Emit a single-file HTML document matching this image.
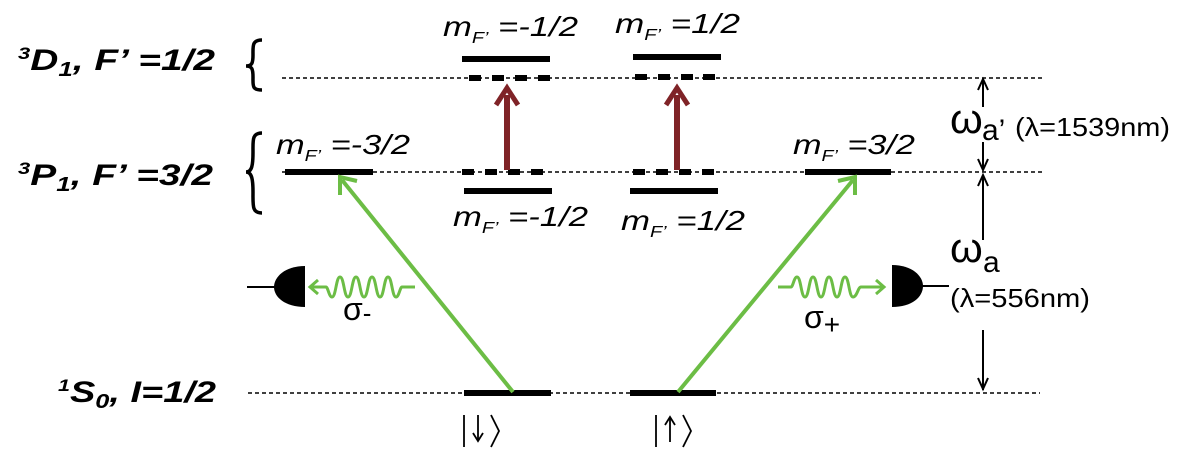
<!DOCTYPE html>
<html><head><meta charset="utf-8"><style>
html,body{margin:0;padding:0;background:#fff;}
svg{display:block;}
text{font-family:"Liberation Sans",sans-serif;}
</style></head><body>
<svg width="1185" height="461" viewBox="0 0 1185 461" xmlns="http://www.w3.org/2000/svg">
<g stroke="#000" stroke-width="1.5" stroke-dasharray="4,3">
<line x1="282" y1="78" x2="1045" y2="78"/>
<line x1="282" y1="172" x2="1045" y2="172"/>
<line x1="248" y1="393" x2="1040" y2="393"/>
</g>
<g fill="#000">
<rect x="462" y="56" width="88" height="6"/>
<rect x="633" y="54" width="88" height="6"/>
<rect x="285" y="169" width="88" height="6"/>
<rect x="805" y="169" width="86" height="6"/>
<rect x="464" y="188" width="88" height="6"/>
<rect x="630" y="188" width="88" height="6"/>
<rect x="464" y="390" width="87" height="6"/>
<rect x="630" y="390" width="86" height="6"/>
</g>
<g fill="#000">
<rect x="469" y="75" width="12" height="6"/><rect x="492" y="75" width="12" height="6"/><rect x="515" y="75" width="12" height="6"/><rect x="538" y="75" width="12" height="6"/>
<rect x="635" y="74" width="12" height="6"/><rect x="658" y="74" width="12" height="6"/><rect x="681" y="74" width="12" height="6"/><rect x="703" y="74" width="12" height="6"/>
<rect x="462" y="169" width="12" height="6"/><rect x="485" y="169" width="12" height="6"/><rect x="508" y="169" width="12" height="6"/><rect x="531" y="169" width="12" height="6"/>
<rect x="633" y="169" width="12" height="6"/><rect x="656" y="169" width="12" height="6"/><rect x="679" y="169" width="12" height="6"/><rect x="702" y="169" width="12" height="6"/>
</g>
<g stroke="#7f2327" fill="#7f2327">
<line x1="507" y1="170" x2="507" y2="95" stroke-width="6"/>
<path d="M496,105 L507,88 L518,105" fill="none" stroke-width="5"/>
<line x1="677" y1="170" x2="677" y2="95" stroke-width="6"/>
<path d="M666,105 L677,88 L688,105" fill="none" stroke-width="5"/>
</g>
<g stroke="#6cbd45" stroke-width="4" fill="none">
<line x1="513" y1="392" x2="342" y2="180"/>
<path d="M340,195 L340,177 L357,181"/>
<line x1="678" y1="392" x2="853" y2="180"/>
<path d="M838,181 L855,177 L855,195"/>
</g>
<g stroke="#6cbd45" stroke-width="3" fill="none">
<path d="M415,287 L402,287 C400,287 399,297 396,297 C392,297 392,277 388,277 C384,277 384,297 380,297 C376,297 376,277 372,277 C368,277 368,297 364,297 C360,297 360,277 356,277 C352,277 352,297 348,297 C344,297 344,277 340,277 C336,277 336,297 332,297 C329,297 328,287 326,287 L310,287"/>
<path d="M318,280 L310,287 L318,294"/>
<path d="M778,287 L791,287 C793,287 794,277 797,277 C801,277 801,297 805,297 C809,297 809,277 813,277 C817,277 817,297 821,297 C825,297 825,277 829,277 C833,277 833,297 837,297 C841,297 841,277 845,277 C849,277 849,297 853,297 C857,297 858,287 861,287 L884,287"/>
<path d="M876,280 L884,287 L876,294"/>
</g>
<g fill="#000" stroke="#000" stroke-width="2">
<path d="M305,266 L305,307 C285,307 274,297 274,287 C274,277 285,266 305,266 Z" stroke="none"/>
<line x1="247" y1="287" x2="275" y2="287"/>
<path d="M892,265 L892,307 C912,307 923,297 923,286 C923,276 912,265 892,265 Z" stroke="none"/>
<line x1="922" y1="286" x2="949" y2="286"/>
</g>
<g stroke="#000" stroke-width="2" fill="none">
<line x1="983" y1="80" x2="983" y2="107"/>
<path d="M978,90 L983,79 L988,90"/>
<line x1="983" y1="142" x2="983" y2="170"/>
<path d="M978,159 L983,170 L988,159"/>
<line x1="983" y1="175" x2="983" y2="240"/>
<path d="M978,186 L983,175 L988,186"/>
<line x1="983" y1="330" x2="983" y2="390"/>
<path d="M978,378 L983,389 L988,378"/>
</g>
<g stroke="#000" stroke-width="3.5" fill="none">
<path d="M262,40 C252,40 253,46 253,55 C253,63 252,66 246,66 C252,66 253,69 253,77 C253,86 252,90 262,90"/>
<path d="M262,133 C252,133 253,140 253,152 C253,165 252,172 246,172 C252,172 253,180 253,192 C253,206 252,213 262,213"/>
</g>
<g font-weight="bold" font-style="italic" font-size="30" fill="#000">
<text x="18" y="70" textLength="197" lengthAdjust="spacingAndGlyphs"><tspan font-size="17" dy="-11">3</tspan><tspan dy="11">D</tspan><tspan font-size="20" dy="6">1</tspan><tspan dy="-6">, F’  =1/2</tspan></text>
<text x="18" y="185" textLength="195" lengthAdjust="spacingAndGlyphs"><tspan font-size="17" dy="-11">3</tspan><tspan dy="11">P</tspan><tspan font-size="20" dy="6">1</tspan><tspan dy="-6">, F’  =3/2</tspan></text>
<text x="58" y="402" textLength="158" lengthAdjust="spacingAndGlyphs"><tspan font-size="17" dy="-11">1</tspan><tspan dy="11">S</tspan><tspan font-size="20" dy="6">0</tspan><tspan dy="-6">, I=1/2</tspan></text>
</g>
<g font-style="italic" font-size="28" fill="#000">
<text x="443" y="36" textLength="135" lengthAdjust="spacingAndGlyphs">m<tspan font-size="16" dy="7">F’</tspan><tspan dy="-7"> =-1/2</tspan></text>
<text x="615" y="33" textLength="125" lengthAdjust="spacingAndGlyphs">m<tspan font-size="16" dy="7">F’</tspan><tspan dy="-7"> =1/2</tspan></text>
<text x="276" y="154" textLength="134" lengthAdjust="spacingAndGlyphs">m<tspan font-size="16" dy="7">F’</tspan><tspan dy="-7"> =-3/2</tspan></text>
<text x="793" y="154" textLength="122" lengthAdjust="spacingAndGlyphs">m<tspan font-size="16" dy="7">F’</tspan><tspan dy="-7"> =3/2</tspan></text>
<text x="453" y="226" textLength="135" lengthAdjust="spacingAndGlyphs">m<tspan font-size="16" dy="7">F’</tspan><tspan dy="-7"> =-1/2</tspan></text>
<text x="621" y="230" textLength="124" lengthAdjust="spacingAndGlyphs">m<tspan font-size="16" dy="7">F’</tspan><tspan dy="-7"> =1/2</tspan></text>
</g>
<g font-size="32" fill="#000">
<text x="343" y="320">σ<tspan font-size="26" dy="2">-</tspan></text>
<text x="804" y="328">σ<tspan font-size="28" dy="6">+</tspan></text>
</g>
<g fill="#000" stroke="#000" stroke-width="1.8">
<line x1="464" y1="415" x2="464" y2="447"/>
<line x1="478" y1="415" x2="478" y2="440"/>
<path d="M473,433 L478,441 L483,433" fill="none"/>
<path d="M491,415 L499,431 L491,447" fill="none"/>
<line x1="656" y1="415" x2="656" y2="447"/>
<line x1="670" y1="418" x2="670" y2="442"/>
<path d="M665,425 L670,417 L675,425" fill="none"/>
<path d="M683,415 L691,431 L683,447" fill="none"/>
</g>
<g fill="#000">
<text x="950" y="133" font-family="Liberation Serif,serif" font-size="42">ω</text>
<text x="982" y="140" font-size="30">a’</text>
<text x="1015" y="136" font-size="26" textLength="155" lengthAdjust="spacingAndGlyphs">(λ=1539nm)</text>
<text x="950" y="262" font-family="Liberation Serif,serif" font-size="42">ω</text>
<text x="983" y="272" font-size="30">a</text>
<text x="950" y="307" font-size="26" textLength="140" lengthAdjust="spacingAndGlyphs">(λ=556nm)</text>
</g>
</svg>
</body></html>
